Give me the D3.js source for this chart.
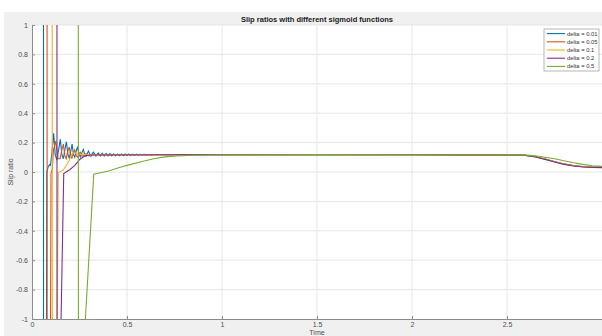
<!DOCTYPE html>
<html>
<head>
<meta charset="utf-8">
<script src="https://cdn.jsdelivr.net/npm/d3@7"></script>
<style>
	body { margin: 0; background: #fff; }
	text { font-family: "Liberation Sans", Arial, sans-serif; }
</style>
</head>
<body>
<div id="chart"></div>
<script>
// axis ticks
var xTicks = [0, 0.5, 1, 1.5, 2, 2.5];
var yTicks = [-1, -0.8, -0.6, -0.4, -0.2, 0, 0.2, 0.4, 0.6, 0.8, 1];

var seriesNames = ["delta = 0.01", "delta = 0.05", "delta = 0.1", "delta = 0.2", "delta = 0.5"];
var seriesColors = ["#0072bd", "#d95319", "#edb120", "#7e2f8e", "#77ac30"];

// [time, slip ratio]; values beyond +-1 run off the axes
var slip001 = [
	[0, 3], [0.060, 3], [0.061, -3], [0.073, -3], [0.078, 0.0], [0.085, 0.035], [0.092, 0.05], [0.097, 0.045],
	[0.104, 0.12], [0.114, 0.263], [0.122, 0.12], [0.131, 0.08], [0.140, 0.15], [0.149, 0.222],
	[0.157, 0.12], [0.165, 0.09], [0.173, 0.15], [0.181, 0.206], [0.189, 0.12], [0.196, 0.095],
	[0.204, 0.14], [0.211, 0.19], [0.218, 0.12], [0.225, 0.1], [0.232, 0.14], [0.240, 0.172],
	[0.247, 0.12], [0.255, 0.103], [0.262, 0.13], [0.270, 0.154], [0.277, 0.12], [0.284, 0.105],
	[0.297, 0.143], [0.310, 0.107], [0.323, 0.135], [0.336, 0.108], [0.349, 0.13],
	[0.360, 0.108], [0.370, 0.127], [0.380, 0.109], [0.390, 0.126], [0.400, 0.109], [0.410, 0.125],
	[0.420, 0.110], [0.430, 0.124], [0.440, 0.110], [0.450, 0.123], [0.460, 0.111], [0.470, 0.123],
	[0.480, 0.111], [0.490, 0.122], [0.500, 0.112], [0.510, 0.122], [0.520, 0.112], [0.530, 0.121],
	[0.540, 0.113], [0.550, 0.121], [0.560, 0.113], [0.570, 0.120], [0.580, 0.114], [0.590, 0.120],
	[0.600, 0.115], [0.610, 0.119], [0.620, 0.116], [0.640, 0.118], [0.7, 0.117], [1.0, 0.118],
	[1.5, 0.118], [2.0, 0.117], [2.4, 0.116], [2.55, 0.116], [2.6, 0.113], [2.65, 0.104], [2.7, 0.089],
	[2.75, 0.071], [2.8, 0.055], [2.85, 0.044], [2.9, 0.037], [2.95, 0.034], [3.0, 0.033]
];

var slip005 = [
	[0, 3], [0.079, 3], [0.080, -3], [0.093, -3], [0.100, -0.01], [0.107, 0.025], [0.113, 0.15],
	[0.125, 0.21], [0.137, 0.09], [0.148, 0.09], [0.157, 0.15], [0.165, 0.19], [0.173, 0.11],
	[0.180, 0.09], [0.188, 0.14], [0.196, 0.17], [0.203, 0.11], [0.210, 0.095], [0.218, 0.13],
	[0.225, 0.15], [0.233, 0.11], [0.240, 0.1], [0.248, 0.125], [0.255, 0.135], [0.263, 0.11],
	[0.270, 0.105], [0.277, 0.12], [0.284, 0.125], [0.292, 0.112], [0.300, 0.11], [0.310, 0.12],
	[0.320, 0.117], [0.7, 0.117], [1.0, 0.118], [1.5, 0.118], [2.0, 0.117], [2.4, 0.116],
	[2.55, 0.116], [2.6, 0.113], [2.65, 0.104], [2.7, 0.088], [2.75, 0.07], [2.8, 0.054],
	[2.85, 0.043], [2.9, 0.036], [2.95, 0.033], [3.0, 0.032]
];

var slip01 = [
	[0, 3], [0.106, 3], [0.107, -3], [0.122, -3], [0.138, -0.005], [0.165, 0.014], [0.182, 0.048],
	[0.196, 0.08], [0.209, 0.12], [0.222, 0.132], [0.238, 0.124], [0.252, 0.118], [0.268, 0.123],
	[0.285, 0.116], [0.300, 0.119], [0.330, 0.117], [0.7, 0.117], [1.0, 0.118], [1.5, 0.118],
	[2.0, 0.117], [2.4, 0.116], [2.55, 0.116], [2.6, 0.113], [2.65, 0.104], [2.7, 0.088],
	[2.75, 0.07], [2.8, 0.054], [2.85, 0.043], [2.9, 0.036], [2.95, 0.033], [3.0, 0.032]
];

var slip02 = [
	[0, 3], [0.131, 3], [0.132, -3], [0.148, -3], [0.153, -1], [0.167, -0.01], [0.198, 0.015],
	[0.226, 0.045], [0.251, 0.085], [0.279, 0.11], [0.310, 0.116], [0.7, 0.117], [1.0, 0.118],
	[1.5, 0.118], [2.0, 0.117], [2.4, 0.116], [2.55, 0.116], [2.6, 0.112], [2.65, 0.102],
	[2.7, 0.086], [2.75, 0.068], [2.8, 0.052], [2.85, 0.041], [2.9, 0.034], [2.95, 0.031], [3.0, 0.03]
];

var slip05 = [
	[0, 0.2], [0.002, 3], [0.243, 3], [0.245, -3], [0.270, -3], [0.281, -1], [0.325, -0.015],
	[0.36, -0.005], [0.40, 0.005], [0.46, 0.03], [0.52, 0.052], [0.58, 0.072], [0.64, 0.09],
	[0.70, 0.103], [0.76, 0.11], [0.85, 0.114], [1.0, 0.117], [1.5, 0.118], [2.0, 0.117],
	[2.4, 0.116], [2.55, 0.117], [2.6, 0.115], [2.65, 0.11], [2.7, 0.1], [2.75, 0.09],
	[2.8, 0.077], [2.85, 0.063], [2.9, 0.052], [2.95, 0.043], [3.0, 0.038]
];

var allSeries = [slip001, slip005, slip01, slip02, slip05];

var W = 602, H = 336;
var margin = {top: 25, right: 0, bottom: 17, left: 32};
var width = W - margin.left - margin.right;
var height = H - margin.top - margin.bottom;

var svg = d3.select("#chart").append("svg")
	.attr("width", W)
	.attr("height", H);

// figure background
svg.append("rect")
	.attr("x", 4).attr("y", 12)
	.attr("width", W - 4).attr("height", H - 12)
	.attr("fill", "#f0f0f0");

var x = d3.scaleLinear().domain([0, 3]).range([0, width]);
var y = d3.scaleLinear().domain([-1, 1]).range([height, 0]);

var g = svg.append("g")
	.attr("transform", "translate(" + margin.left + "," + margin.top + ")");

g.append("rect")
	.attr("width", width).attr("height", height)
	.attr("fill", "#fff");

g.append("clipPath").attr("id", "clip")
	.append("rect").attr("width", width).attr("height", height);

// grid
g.append("g").selectAll("line.gx")
	.data(xTicks.slice(1))
	.enter().append("line")
		.attr("x1", function(d) { return x(d); }).attr("x2", function(d) { return x(d); })
		.attr("y1", 0).attr("y2", height)
		.style("stroke", "#e6e6e6").style("stroke-width", 1);
g.append("g").selectAll("line.gy")
	.data(yTicks.slice(1))
	.enter().append("line")
		.attr("y1", function(d) { return y(d); }).attr("y2", function(d) { return y(d); })
		.attr("x1", 0).attr("x2", width)
		.style("stroke", "#e6e6e6").style("stroke-width", 1);

// lines
var line = d3.line()
	.x(function(d) { return x(d[0]); })
	.y(function(d) { return y(d[1]); });

g.append("g").attr("clip-path", "url(#clip)")
	.selectAll("path")
	.data(allSeries)
	.enter().append("path")
		.attr("d", line)
		.style("fill", "none")
		.style("stroke", function(d, i) { return seriesColors[i]; })
		.style("stroke-width", 1.1);

// axes
var xAxis = g.append("g")
	.attr("transform", "translate(0," + height + ")")
	.call(d3.axisBottom(x).tickValues(xTicks).tickSizeInner(-3).tickSizeOuter(0)
		.tickFormat(function(d) { return String(d); }));
var yAxis = g.append("g")
	.call(d3.axisLeft(y).tickValues(yTicks).tickSizeInner(-3).tickSizeOuter(0)
		.tickFormat(function(d) { return String(+d.toFixed(1)); }));

[xAxis, yAxis].forEach(function(a) {
	a.select(".domain").style("stroke", "#8c8c8c");
	a.selectAll(".tick line").style("stroke", "#8c8c8c");
	a.selectAll(".tick text")
		.style("font-size", "7px")
		.style("fill", "#4d4d4d")
		.style("font-family", "Liberation Sans, Arial, sans-serif");
});
xAxis.selectAll(".tick text").attr("y", 3).attr("dy", "0.71em");
yAxis.selectAll(".tick text").attr("x", -4);

// title and labels
svg.append("text")
	.attr("x", margin.left + width / 2).attr("y", 22)
	.attr("text-anchor", "middle")
	.style("font-size", "7.5px").style("font-weight", "bold")
	.style("fill", "#1a1a1a")
	.text("Slip ratios with different sigmoid functions");

svg.append("text")
	.attr("x", margin.left + width / 2).attr("y", 335)
	.attr("text-anchor", "middle")
	.style("font-size", "7px").style("fill", "#4d4d4d")
	.text("Time");

svg.append("text")
	.attr("transform", "translate(13," + (margin.top + height / 2) + ") rotate(-90)")
	.attr("text-anchor", "middle")
	.style("font-size", "7px").style("fill", "#4d4d4d")
	.text("Slip ratio");

// legend
var legend = svg.append("g").attr("transform", "translate(544,29)");
legend.append("rect")
	.attr("width", 55).attr("height", 42)
	.style("fill", "#fff").style("stroke", "#a6a6a6").style("stroke-width", 0.8);
var item = legend.selectAll("g.item")
	.data(seriesNames)
	.enter().append("g")
		.attr("transform", function(d, i) { return "translate(0," + (4.6 + i * 8.2) + ")"; });
item.append("line")
	.attr("x1", 3).attr("x2", 21)
	.style("stroke", function(d, i) { return seriesColors[i]; })
	.style("stroke-width", 1.1);
item.append("text")
	.attr("x", 23).attr("dy", "0.35em")
	.style("font-size", "5.8px").style("fill", "#333")
	.text(function(d) { return d; });
</script>
</body>
</html>
